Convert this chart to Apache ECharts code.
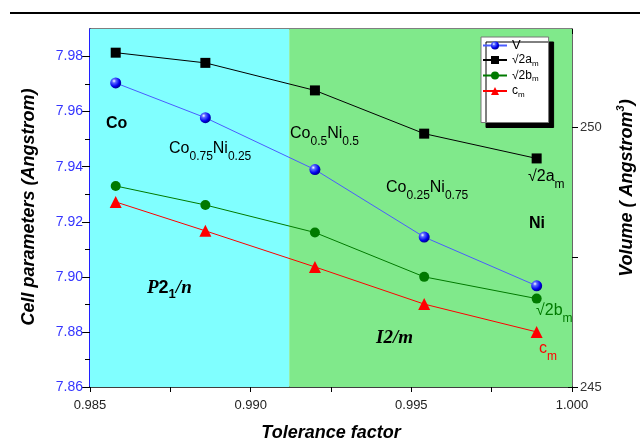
<!DOCTYPE html>
<html>
<head>
<meta charset="utf-8">
<script src="https://cdn.jsdelivr.net/npm/echarts@6/dist/echarts.min.js"></script>
<style>
  html, body { margin: 0; padding: 0; background: #fff; }
  #chart { width: 640px; height: 442px; }
</style>
</head>
<body>
<div id="chart"></div>
<script>
// Tolerance factor of each composition (Co -> Ni)
const tolerance = [0.9858, 0.98859, 0.9920, 0.9954, 0.9989];
// Cell volume (Angstrom^3), right axis
const volume = [250.86, 250.19, 249.19, 247.89, 246.95];
// Pseudo-cubic cell parameters (Angstrom), left axis
const a2 = [7.9814, 7.9777, 7.9677, 7.9520, 7.9430];
const b2 = [7.9330, 7.9261, 7.9161, 7.9000, 7.8921];
const cm = [7.9272, 7.9167, 7.9036, 7.8901, 7.8800];

// Phase regions along the tolerance axis: P2_1/n then I2/m
const phaseBounds = [0.985, 0.9912, 1.000];

// Tick values
const xTickLabels = [0.985, 0.990, 0.995, 1.000];
const xTickMarks = [0.985, 0.9875, 0.990, 0.9925, 0.995, 0.9975, 1.000];
const leftTicks = [7.86, 7.88, 7.90, 7.92, 7.94, 7.96, 7.98];
const leftMinorTicks = [7.87, 7.89, 7.91, 7.93, 7.95, 7.97];
const rightTicks = [245, 247.5, 250];
const rightTickLabels = [245, 250];

const pairs = ys => tolerance.map((t, i) => [t, ys[i]]);

const chart = echarts.init(document.getElementById('chart'), null, { renderer: 'canvas' });

const SANS = "'Liberation Sans', Arial, sans-serif";
const SERIF = "'Liberation Serif', 'Times New Roman', serif";

const subRich = (size, drop) => ({ fontSize: size, fontFamily: SANS, padding: [drop * 2, 0, 0, 0] });

const legendNames = {
  'V': 'V',
  '√2a': '{t|√2a}{s|m}',
  '√2b': '{t|√2b}{s|m}',
  'c': '{t|c}{s|m}'
};

const sphere = new echarts.graphic.RadialGradient(0.35, 0.32, 0.7, [
  { offset: 0, color: '#ffffff' },
  { offset: 0.25, color: '#5a6bff' },
  { offset: 0.7, color: '#0000ee' },
  { offset: 1, color: '#00008a' }
]);

const compText = (x, y, parts, color) => ({
  type: 'text', x: x, y: y, z: 50,
  style: {
    text: parts, fill: color || '#000',
    align: 'left', verticalAlign: 'middle',
    font: '16px ' + SANS,
    rich: {
      t: { fontSize: 16, fontFamily: SANS, fill: color || '#000' },
      b: { fontSize: 16, fontFamily: SANS, fontWeight: 'bold', fill: color || '#000' },
      s: Object.assign(subRich(12, 8), { fill: color || '#000' })
    }
  }
});

const option = {
  animation: false,
  backgroundColor: '#fff',
  grid: { left: 90, right: 68, top: 29, bottom: 55 },
  legend: {
    data: ['V', '√2a', '√2b', 'c'],
    orient: 'vertical',
    left: 481, top: 37,
    backgroundColor: '#fff',
    borderColor: '#777', borderWidth: 1, borderRadius: 0,
    shadowColor: '#000', shadowBlur: 0, shadowOffsetX: 5, shadowOffsetY: 5,
    padding: [2, 10, 24, 1],
    itemWidth: 24, itemHeight: 10, itemGap: 2,
    formatter: name => legendNames[name],
    textStyle: {
      fontSize: 13, fontFamily: SANS, color: '#000',
      rich: {
        t: { fontSize: 12, fontFamily: SANS, color: '#000' },
        s: { fontSize: 8, fontFamily: SANS, color: '#000', padding: [7, 0, 0, 0] }
      }
    }
  },
  xAxis: [
    {
      type: 'value', position: 'bottom', min: 0.985, max: 1.0,
      axisLine: { lineStyle: { color: '#000', width: 1.5 } },
      axisTick: { customValues: xTickMarks, length: 5, lineStyle: { color: '#000', width: 1 } },
      axisLabel: {
        customValues: xTickLabels, formatter: v => v.toFixed(3),
        fontSize: 13, fontFamily: SANS, color: '#222', margin: 12
      },
      splitLine: { show: false }
    },
    {
      type: 'value', position: 'top', min: 0.985, max: 1.0,
      axisLine: { lineStyle: { color: '#555', width: 1.5 } },
      axisTick: { inside: true, customValues: xTickMarks, length: 5, lineStyle: { color: '#000' } },
      axisLabel: { show: false },
      splitLine: { show: false }
    }
  ],
  yAxis: [
    {
      type: 'value', position: 'left', min: 7.86, max: 7.99,
      axisLine: { lineStyle: { color: '#2020ff', width: 2 } },
      axisTick: { customValues: leftTicks, length: 8, lineStyle: { color: '#000', width: 1 } },
      axisLabel: {
        customValues: leftTicks, formatter: v => v.toFixed(2),
        fontSize: 14, fontFamily: SANS, color: '#3535ff', margin: 7
      },
      splitLine: { show: false }
    },
    {
      type: 'value', position: 'right', min: 245, max: 251.9,
      axisLine: { lineStyle: { color: '#333', width: 1.5 } },
      axisTick: { customValues: rightTicks, length: 6, lineStyle: { color: '#000' } },
      axisLabel: {
        customValues: rightTickLabels, formatter: v => String(v),
        fontSize: 13, fontFamily: SANS, color: '#333', margin: 8
      },
      splitLine: { show: false }
    },
    {
      type: 'value', position: 'left', min: 7.86, max: 7.99,
      axisLine: { show: false },
      axisTick: { customValues: leftMinorTicks, length: 5, lineStyle: { color: '#000' } },
      axisLabel: { show: false },
      splitLine: { show: false }
    },
    {
      type: 'value', position: 'right', min: 245, max: 251.9,
      axisLine: { show: false },
      axisTick: { inside: true, customValues: rightTicks, length: 4, lineStyle: { color: '#000' } },
      axisLabel: { show: false },
      splitLine: { show: false }
    }
  ],
  series: [
    {
      name: 'phases', type: 'line', data: [], z: 0, silent: true,
      xAxisIndex: 0, yAxisIndex: 0,
      markArea: {
        silent: true,
        data: [
          [{ xAxis: phaseBounds[0], itemStyle: { color: '#80ffff' } }, { xAxis: phaseBounds[1] }],
          [{ xAxis: phaseBounds[1], itemStyle: { color: '#80e98b' } }, { xAxis: phaseBounds[2] }]
        ]
      }
    },
    {
      name: 'V', type: 'line', yAxisIndex: 1, z: 5,
      data: pairs(volume),
      symbol: 'circle', symbolSize: 11,
      lineStyle: { color: '#4a5cff', width: 1 },
      itemStyle: { color: sphere, borderWidth: 0 }
    },
    {
      name: '√2a', type: 'line', yAxisIndex: 0, z: 5,
      data: pairs(a2),
      symbol: 'rect', symbolSize: 10,
      lineStyle: { color: '#000', width: 1 },
      itemStyle: { color: '#000' }
    },
    {
      name: '√2b', type: 'line', yAxisIndex: 0, z: 5,
      data: pairs(b2),
      symbol: 'circle', symbolSize: 10,
      lineStyle: { color: '#007a00', width: 1 },
      itemStyle: { color: '#007a00' }
    },
    {
      name: 'c', type: 'line', yAxisIndex: 0, z: 5,
      data: pairs(cm),
      symbol: 'triangle', symbolSize: 12,
      lineStyle: { color: '#ff0000', width: 1 },
      itemStyle: { color: '#ff0000' }
    }
  ],
  graphic: [
    // Rule across the top of the figure
    { type: 'line', shape: { x1: 10, y1: 13, x2: 640, y2: 13 }, style: { stroke: '#000', lineWidth: 2 } },
    // Axis titles
    {
      type: 'text', x: 29, y: 207, rotation: Math.PI / 2,
      style: { text: 'Cell parameters (Angstrom)', align: 'center', verticalAlign: 'middle',
               font: 'italic bold 18px ' + SANS, fill: '#000' }
    },
    {
      type: 'text', x: 627, y: 188, rotation: Math.PI / 2,
      style: {
        text: '{t|Volume ( Angstrom}{p|3}{t|)}', align: 'center', verticalAlign: 'middle',
        font: 'italic bold 18px ' + SANS, fill: '#000',
        rich: {
          t: { font: 'italic bold 18px ' + SANS, fill: '#000' },
          p: { font: 'italic bold 11px ' + SANS, fill: '#000', padding: [0, 0, 12, 0] }
        }
      }
    },
    {
      type: 'text', x: 331, y: 433,
      style: { text: 'Tolerance factor', align: 'center', verticalAlign: 'middle',
               font: 'italic bold 18px ' + SANS, fill: '#000' }
    },
    // Composition labels
    compText(106, 124, '{b|Co}'),
    compText(169, 149, '{t|Co}{s|0.75}{t|Ni}{s|0.25}'),
    compText(290, 134, '{t|Co}{s|0.5}{t|Ni}{s|0.5}'),
    compText(386, 188, '{t|Co}{s|0.25}{t|Ni}{s|0.75}'),
    compText(529, 224, '{b|Ni}'),
    // Curve labels
    compText(528, 177, '{t|√2a}{s|m}'),
    compText(536, 311, '{t|√2b}{s|m}', '#007a00'),
    compText(539, 349, '{t|c}{s|m}', '#ff0000'),
    // Space groups
    {
      type: 'text', x: 147, y: 288, z: 50,
      style: {
        text: '{p|P}{d|2}{s|1}{p|/n}', align: 'left', verticalAlign: 'middle',
        rich: {
          p: { font: 'italic bold 19px ' + SERIF, fill: '#000' },
          d: { font: 'bold 18px ' + SANS, fill: '#000' },
          s: { font: 'bold 13px ' + SANS, fill: '#000', padding: [12, 0, 0, 0] }
        }
      }
    },
    {
      type: 'text', x: 376, y: 338, z: 50,
      style: { text: 'I2/m', align: 'left', verticalAlign: 'middle',
               font: 'italic bold 19px ' + SERIF, fill: '#000' }
    }
  ]
};

chart.setOption(option);
</script>
</body>
</html>
